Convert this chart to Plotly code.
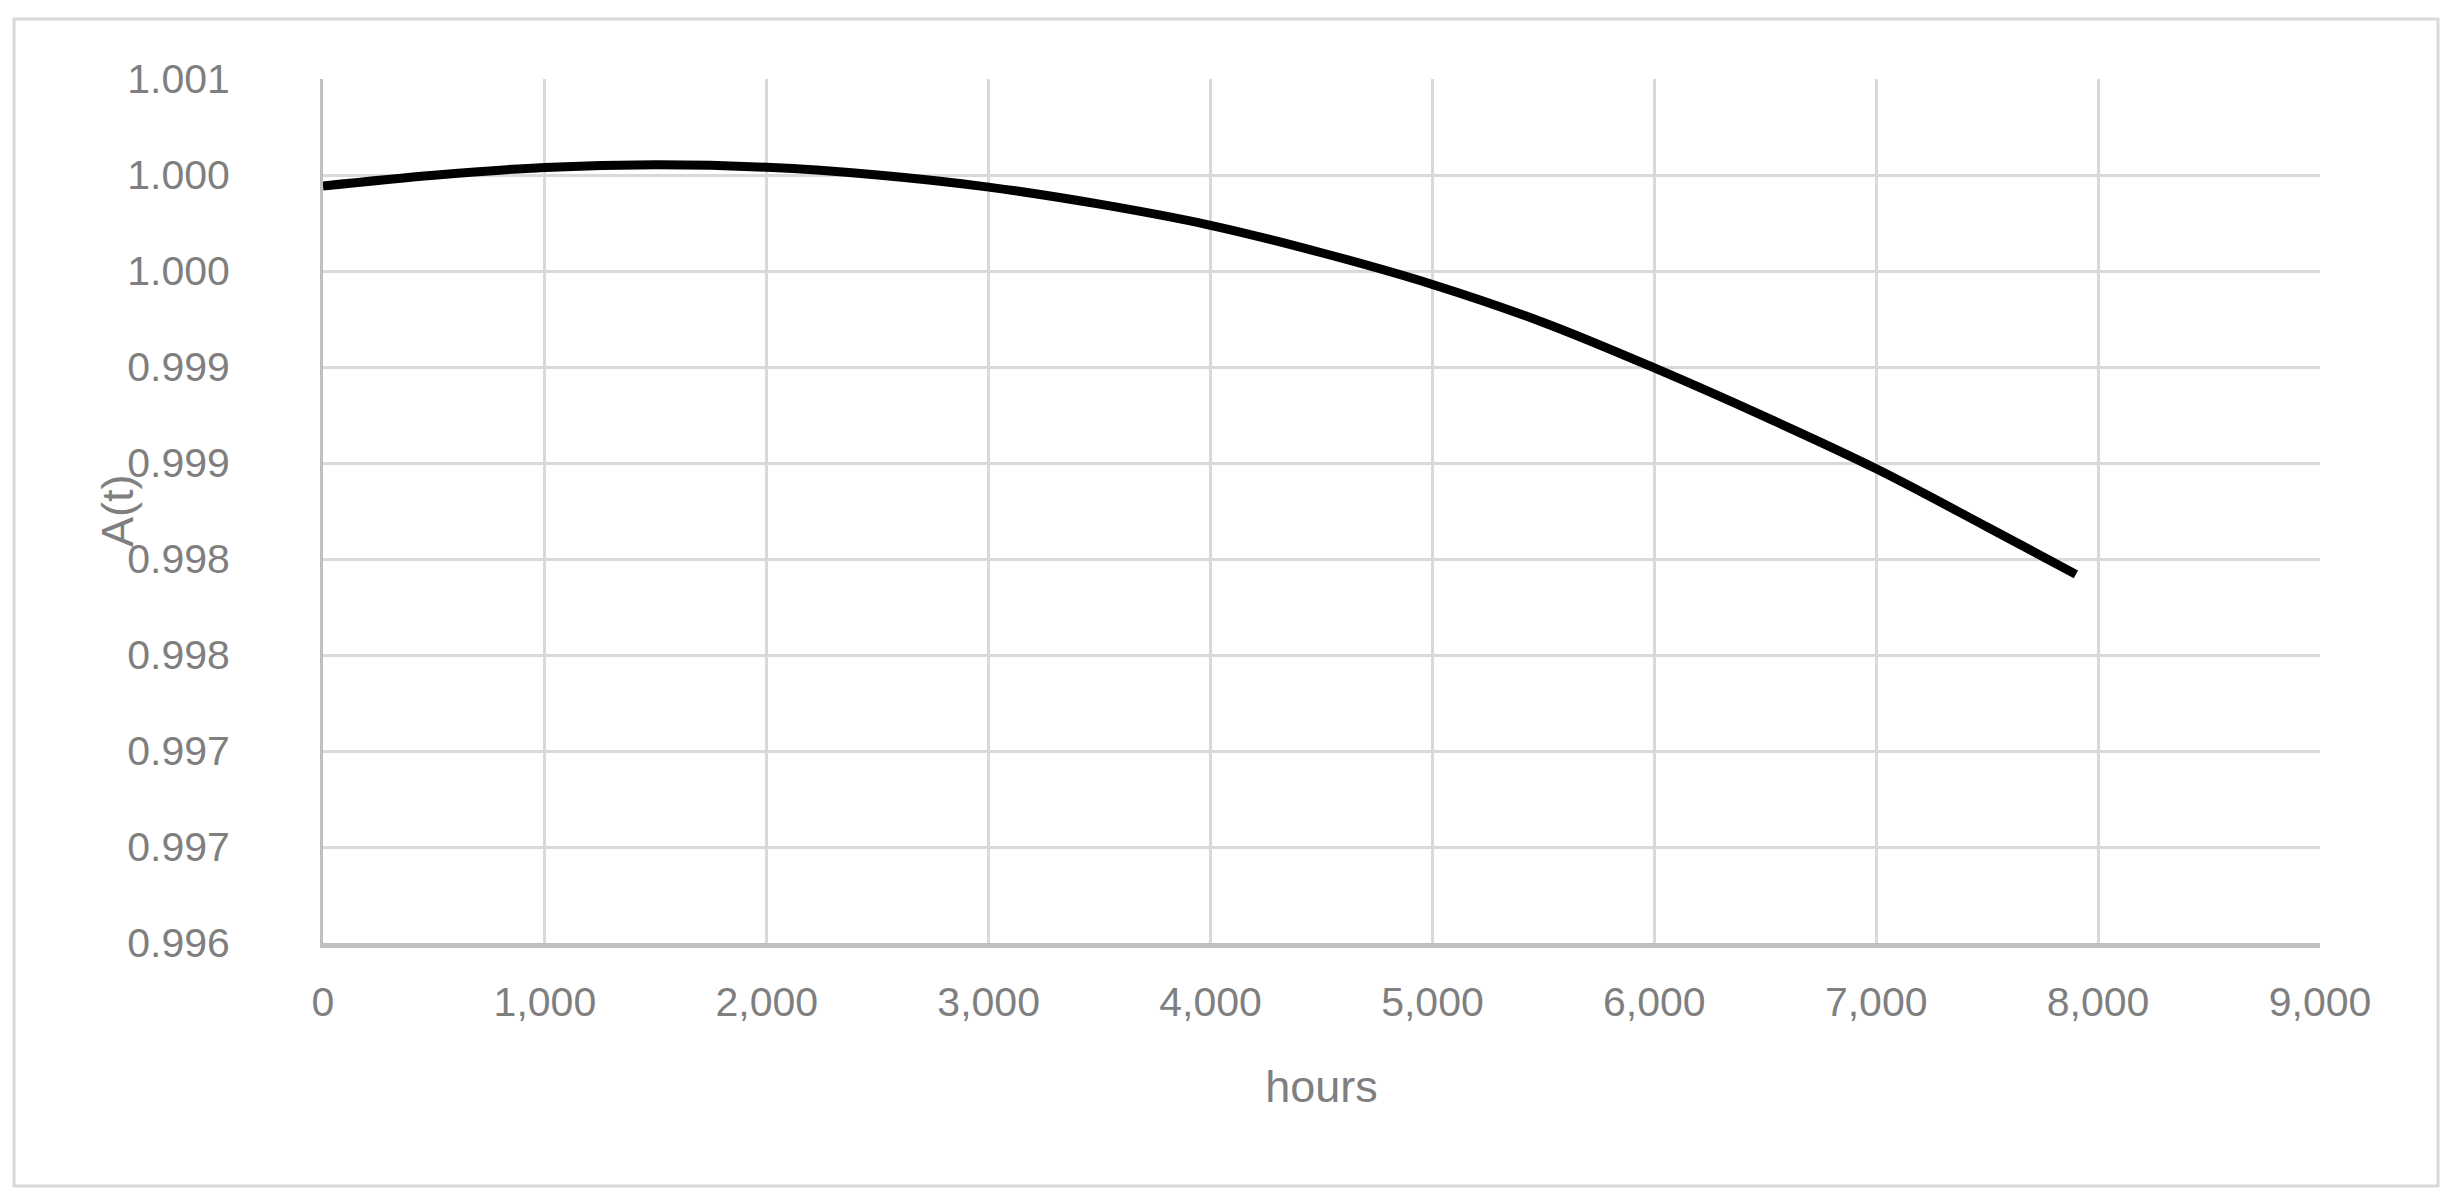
import plotly.graph_objects as go

# datos
horas = [0, 500, 1000, 1500, 2000, 2500, 3000, 3500, 4000, 4500,
         5000, 5500, 6000, 6500, 7000, 7500, 7900]
disponibilidad = [1.000443, 1.000499, 1.000539, 1.000553, 1.000540, 1.000500,
                  1.000437, 1.000348, 1.000238, 1.000095, 0.999930, 0.999732,
                  0.999495, 0.999240, 0.998970, 0.998667, 0.998420]

y_ticks = [1.0010, 1.0005, 1.0000, 0.9995, 0.9990, 0.9985, 0.9980, 0.9975, 0.9970, 0.9965]
y_labels = ['1.001', '1.000', '1.000', '0.999', '0.999', '0.998', '0.998', '0.997', '0.997', '0.996']
x_ticks = [0, 1000, 2000, 3000, 4000, 5000, 6000, 7000, 8000, 9000]
x_labels = ['0', '1,000', '2,000', '3,000', '4,000', '5,000', '6,000', '7,000', '8,000', '9,000']

ANCHO = 2450
ALTO = 1200
DESPLAZ = 8  # margen del body en el html
IZQ, DER, ARR, ABA = 323 - DESPLAZ, 2320 - DESPLAZ, 79 - DESPLAZ, 943 - DESPLAZ
COLOR_TEXTO = '#7f7f7f'
COLOR_GRID = '#d9d9d9'
COLOR_EJE = '#bfbfbf'
FUENTE = 'Liberation Sans'

fig = go.Figure()

fig.add_trace(go.Scatter(
    x=horas,
    y=disponibilidad,
    mode='lines',
    line=dict(color='black', width=9, shape='spline'),
    showlegend=False
))

fig.update_layout(
    width=ANCHO,
    height=ALTO,
    margin=dict(l=IZQ, r=ANCHO - DER, t=ARR, b=ALTO - ABA, pad=0),
    paper_bgcolor='white',
    plot_bgcolor='white',
    font=dict(family=FUENTE, size=41, color=COLOR_TEXTO),
)

fig.update_xaxes(
    range=[0, 9000],
    tickvals=x_ticks,
    ticktext=x_labels,
    showgrid=True, gridcolor=COLOR_GRID, gridwidth=3,
    showline=True, linecolor=COLOR_EJE, linewidth=5,
    zeroline=False,
    ticks='', ticklabelstandoff=19,
    title=dict(text='hours', font=dict(size=45, color=COLOR_TEXTO), standoff=48),
)
fig.update_yaxes(
    range=[0.9965, 1.0010],
    tickvals=y_ticks,
    ticktext=y_labels,
    showgrid=True, gridcolor=COLOR_GRID, gridwidth=3,
    showline=True, linecolor=COLOR_EJE, linewidth=3,
    zeroline=False,
    ticks='', ticklabelstandoff=82,
)

# titulo del eje y como anotacion para que quede entre las etiquetas
ancho_plot = DER - IZQ
alto_plot = ABA - ARR
fig.add_annotation(
    text='A(t)', textangle=-90,
    xref='paper', yref='paper',
    x=(117 - DESPLAZ - IZQ) / ancho_plot, y=0.5,
    xanchor='center', yanchor='middle',
    showarrow=False,
    font=dict(size=45, color=COLOR_TEXTO),
)

# marco exterior del grafico
fig.add_shape(
    type='rect', xref='paper', yref='paper',
    x0=(14 - DESPLAZ - IZQ) / ancho_plot, x1=(2438 - DESPLAZ - IZQ) / ancho_plot,
    y0=(ABA - (1186 - DESPLAZ)) / alto_plot, y1=(ABA - (19 - DESPLAZ)) / alto_plot,
    line=dict(color=COLOR_GRID, width=3),
    layer='below'
)

fig.write_html("out.html")
